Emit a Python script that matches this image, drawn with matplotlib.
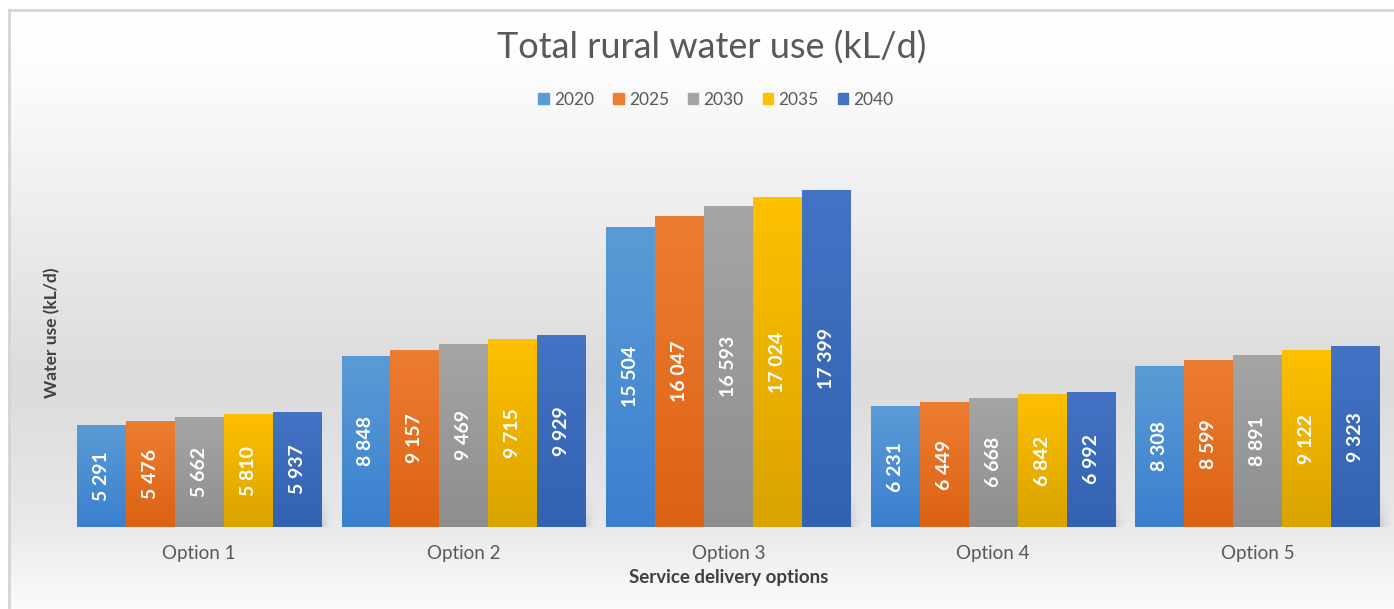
import numpy as np
import matplotlib.pyplot as plt
from matplotlib.colors import to_rgb

plt.rcParams['font.family'] = ['Lato', 'DejaVu Sans']

# данные
options = ['Option 1', 'Option 2', 'Option 3', 'Option 4', 'Option 5']
years = ['2020', '2025', '2030', '2035', '2040']
use_2020 = [5291, 8848, 15504, 6231, 8308]
use_2025 = [5476, 9157, 16047, 6449, 8599]
use_2030 = [5662, 9469, 16593, 6668, 8891]
use_2035 = [5810, 9715, 17024, 6842, 9122]
use_2040 = [5937, 9929, 17399, 6992, 9323]
series = [use_2020, use_2025, use_2030, use_2035, use_2040]

# цвета: верх / низ градиента
top_cols = ['#5b9bd5', '#ed7d31', '#a5a5a5', '#ffc000', '#4472c4']
bot_cols = ['#3a80cf', '#dc6214', '#8e8e8e', '#d9a300', '#3462b2']

W, H = 1394, 609
fig = plt.figure(figsize=(W / 100, H / 100), dpi=100)
fig.patch.set_facecolor('white')

# фон с градиентом
bg = fig.add_axes([0, 0, 1, 1], zorder=-1)
bg.set_xlim(0, W)
bg.set_ylim(H, 0)
bg.axis('off')
yy = np.linspace(10, H, 300)
g = np.interp(yy, [10, 60, 380, 520, H], [1.0, 0.995, 0.86, 0.91, 0.985])
img = np.repeat(g[:, None], 2, axis=1)
img = np.dstack([img, img, img])
bg.imshow(img, extent=[9, W, H, 10], aspect='auto', interpolation='bilinear')
bg.plot([9, W], [10, 10], color='#d4d4d4', lw=2)
bg.plot([9, 9], [10, H], color='#d4d4d4', lw=2)

ax = fig.add_axes([67 / W, (H - 527) / H, 1323 / W, 387.4 / H])
ax.set_facecolor('none')

n = len(years)
bw = 0.185
x = np.arange(len(options))

def grad_img(c_top, c_bot):
    t = np.linspace(0, 1, 64)[:, None]
    a = np.array(to_rgb(c_top))
    b = np.array(to_rgb(c_bot))
    cols = a * (1 - t) + b * t
    return cols[:, None, :].repeat(2, axis=1)

# тени
for i in range(len(options)):
    x0 = x[i] - n * bw / 2
    x1 = x[i] + n * bw / 2
    nx, ny = 40, 40
    u = np.linspace(0, 1, nx)[None, :]
    v = np.linspace(0, 1, ny)[:, None]
    alpha = 0.45 * (1 - v) ** 1.5 * np.clip(1 - (u - 0.9) / 0.1, 0, 1) ** 2
    sh = np.zeros((ny, nx, 4))
    sh[..., 3] = alpha
    ax.imshow(sh, extent=[x0 + 0.01, x1 + 0.06, 0, 2300], origin='lower',
              aspect='auto', interpolation='bilinear', zorder=1)

for j, vals in enumerate(series):
    pos = x - n * bw / 2 + bw * (j + 0.5)
    bars = ax.bar(pos, vals, width=bw, color='none', label=years[j], zorder=2)
    for b, v in zip(bars, vals):
        im = ax.imshow(grad_img(top_cols[j], bot_cols[j]),
                       extent=[b.get_x(), b.get_x() + bw, 0, v],
                       aspect='auto', interpolation='bilinear', zorder=2)
        im.set_clip_path(b)
        ax.text(b.get_x() + bw / 2, v / 2, f'{v:,}'.replace(',', ' '),
                rotation=90, ha='center', va='center', color='white',
                fontsize=14, fontweight='bold', zorder=3)

ax.set_xlim(-0.5, len(options) - 0.5)
ax.set_ylim(0, 20000)
ax.set_xticks(x)
ax.set_xticklabels(options, fontsize=13.5, color='#595959')
ax.tick_params(axis='x', length=0, pad=13)
ax.set_yticks([])
for s in ax.spines.values():
    s.set_visible(False)

ax.set_xlabel('Service delivery options', fontsize=13.5, fontweight='bold',
              color='#404040', labelpad=5)
fig.text(52 / W, 1 - 333 / H, 'Water use (kL/d)', rotation=90, ha='center',
         va='center', fontsize=12.5, fontweight='bold', color='#404040')

fig.text(712 / W, 1 - 48 / H, 'Total rural water use (kL/d)', ha='center',
         va='center', fontsize=26, color='#595959')

handles = [plt.Rectangle((0, 0), 1, 1, color=c) for c in top_cols]
fig.legend(handles, years, loc='center', bbox_to_anchor=(716 / W, 1 - 100 / H),
           ncol=5, frameon=False, fontsize=12.5, handlelength=0.6,
           handleheight=0.6, handletextpad=0.3, columnspacing=1.1,
           labelcolor='#595959')

plt.savefig('out.png', dpi=100)
